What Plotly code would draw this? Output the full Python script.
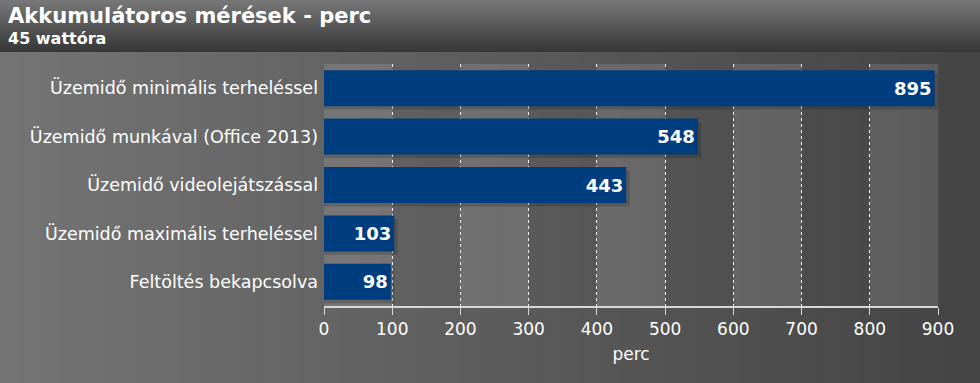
import plotly.graph_objects as go

categories = [
    "Üzemidő minimális terheléssel",
    "Üzemidő munkával (Office 2013)",
    "Üzemidő videolejátszással",
    "Üzemidő maximális terheléssel",
    "Feltöltés bekapcsolva",
]
values = [895, 548, 443, 103, 98]
tick_vals = [0, 100, 200, 300, 400, 500, 600, 700, 800, 900]
title_text = "Akkumulátoros mérések - perc"
subtitle_text = "45 wattóra"
axis_title = "perc"

W, H = 980, 383
ML, MR, MT, MB = 324, 42, 64, 77
PW, PH = W - ML - MR, H - MT - MB


def px_x(px):
    return (px - ML) / PW


def px_y(py):
    return (H - MB - py) / PH


def lerp(c1, c2, t):
    return "rgb(%d,%d,%d)" % tuple(round(a + (b - a) * t) for a, b in zip(c1, c2))


shapes = []
# body horizontal gradient
n = 98
for i in range(n):
    t = i / (n - 1)
    shapes.append(dict(type="rect", xref="paper", yref="paper",
                       x0=px_x(i * W / n), x1=px_x((i + 1) * W / n + 1),
                       y0=px_y(H + 2), y1=px_y(51),
                       fillcolor=lerp((116, 116, 116), (68, 68, 68), t),
                       line_width=0, layer="below"))
# header vertical gradient
m = 25
for i in range(m):
    t = i / (m - 1)
    shapes.append(dict(type="rect", xref="paper", yref="paper",
                       x0=px_x(-2), x1=px_x(W + 2),
                       y0=px_y((i + 1) * 50 / m + 0.5), y1=px_y(i * 50 / m - 2),
                       fillcolor=lerp((122, 122, 122), (60, 60, 60), t),
                       line_width=0, layer="below"))
shapes.append(dict(type="rect", xref="paper", yref="paper",
                   x0=px_x(-2), x1=px_x(W + 2), y0=px_y(52), y1=px_y(50),
                   fillcolor="rgb(55,55,55)", line_width=0, layer="below"))
# alternating light bands
for k in range(0, len(tick_vals) - 1, 2):
    shapes.append(dict(type="rect", xref="x", yref="paper",
                       x0=tick_vals[k], x1=tick_vals[k + 1], y0=0, y1=1,
                       fillcolor="rgba(255,255,255,0.12)", line_width=0, layer="below"))

fig = go.Figure()
fig.add_trace(go.Bar(
    y=categories, x=[v + 5 for v in values], orientation="h",
    marker=dict(color="rgba(0,0,0,0.16)", line_width=0),
    width=0.744, offset=-0.372 + 0.07, hoverinfo="skip", showlegend=False,
))
fig.add_trace(go.Bar(
    y=categories, x=values, orientation="h",
    marker=dict(color="#003d7e", line_width=0),
    width=0.744, offset=-0.372,
    text=[str(v) for v in values], textposition="inside", insidetextanchor="end",
    textfont=dict(family="DejaVu Sans", size=18, color="white", weight="bold"),
    constraintext="none", showlegend=False,
))

fig.update_layout(
    width=W, height=H,
    margin=dict(l=ML, r=MR, t=MT, b=MB, pad=0),
    paper_bgcolor="#5a5a5a", plot_bgcolor="rgba(0,0,0,0)",
    barmode="overlay",
    shapes=shapes,
    font=dict(family="DejaVu Sans", color="white"),
    annotations=[
        dict(text="<b>" + title_text + "</b>", xref="paper", yref="paper",
             x=px_x(6), y=px_y(2), xanchor="left", yanchor="top", showarrow=False,
             font=dict(size=21, color="white", family="DejaVu Sans")),
        dict(text="<b>" + subtitle_text + "</b>", xref="paper", yref="paper",
             x=px_x(6), y=px_y(27), xanchor="left", yanchor="top", showarrow=False,
             font=dict(size=16, color="white", family="DejaVu Sans")),
    ],
    xaxis=dict(
        range=[0, 900], tickvals=tick_vals, showgrid=True,
        gridcolor="rgba(255,255,255,0.9)", griddash="dot", gridwidth=1,
        showline=True, linecolor="#d8d8d8", linewidth=1.5,
        ticks="outside", ticklen=7, tickcolor="#d8d8d8",
        tickfont=dict(size=17, color="white"), zeroline=False,
        title=dict(text=axis_title, font=dict(size=17, color="white"), standoff=10),
        fixedrange=True,
    ),
    yaxis=dict(
        autorange="reversed", showgrid=False, zeroline=False,
        tickfont=dict(size=17.5, color="white"), ticks="", ticklabelstandoff=5,
        fixedrange=True,
    ),
)

fig.write_html("out.html", config={"displayModeBar": False},
               post_script="document.body.style.margin='0';")
